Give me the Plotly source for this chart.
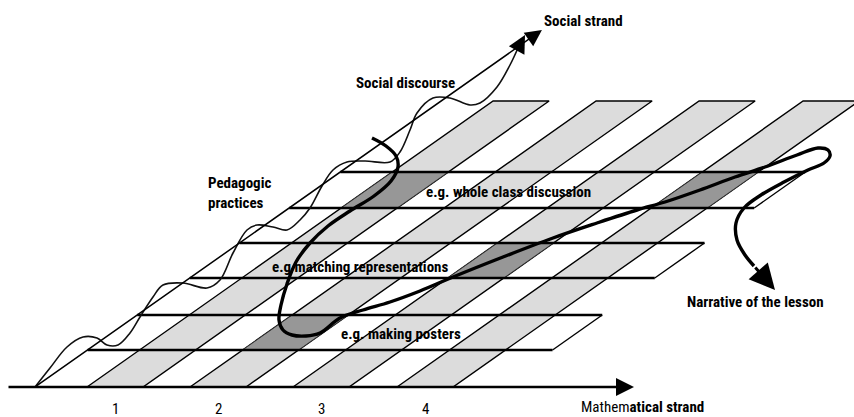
import plotly.graph_objects as go

# ---------------- data ----------------
# oblique projection parameters of the diagram (origin, slant)
X0, Y0, K = 35, 387, 1.42

math_ticks = ["1", "2", "3", "4"]
strip_start = [52, 155, 258, 362]      # position along the mathematical strand
strip_width = 56
strip_depth = 286                       # extent along the social strand

row_labels = ["e.g. making posters", "e.g matching representations", "e.g. whole class discussion"]
row_lo = [37, 109, 179]                 # social-strand depth of each practice row
row_hi = [72, 144, 215]
row_length = 465
row_label_x = [401, 360, 508]
row_label_y = [334, 267, 192]

dark_rows = [0, 1, 2, 2]                # (row, strip) cells visited by the narrative
dark_strips = [1, 2, 0, 3]

social_len = 357
math_from, math_to = -28, 599

wavy_x = [35, 50, 67, 83, 97, 107, 118, 130, 140, 153, 163, 183, 207, 220, 233, 247, 257, 273, 287,
          300, 310, 322, 333, 347, 365, 390, 400, 410, 417, 433, 450, 470, 480, 497, 510, 518]
wavy_y = [387, 368, 347, 337, 338, 345, 345, 333, 317, 297, 285, 283, 288, 280, 253, 230, 225, 227, 230,
          220, 208, 186, 170, 162, 161, 162, 152, 130, 113, 98, 98, 105, 103, 87, 65, 48]
wavy_tip = (525, 35)

narr_x = [372, 386, 396, 398, 391, 374, 350, 328, 310, 296, 287, 281, 279, 283, 292, 306, 320, 340,
          363, 390, 420, 453, 503, 553, 597, 637, 665, 700, 735, 765, 797, 818, 828, 830, 824, 808,
          784, 761, 744, 736, 737, 745, 754]
narr_y = [138, 146, 156, 167, 181, 196, 211, 226, 243, 262, 284, 305, 320, 330, 335, 336, 333, 318,
          310, 302, 291, 277, 257, 238, 223, 210, 202, 190, 177, 167, 155, 148, 150, 156, 163, 170,
          182, 195, 208, 223, 240, 255, 266]
narr_tip = (775, 290)

LIGHT = "#dcdcdc"
DARK = "#979797"
FONT = "Liberation Sans Narrow, Arial Narrow, Roboto Condensed, DejaVu Sans Condensed, sans-serif"


def proj(m, s):
    return X0 + m + K * s, Y0 - s


def quad(m0, m1, s0, s1):
    pts = [proj(m0, s0), proj(m1, s0), proj(m1, s1), proj(m0, s1), proj(m0, s0)]
    return [p[0] for p in pts], [p[1] for p in pts]


fig = go.Figure()

# light strips of the mathematical strand
for m in strip_start:
    xs, ys = quad(m, m + strip_width, 0, strip_depth)
    fig.add_trace(go.Scatter(x=xs, y=ys, mode="lines", fill="toself", fillcolor=LIGHT,
                             line=dict(color="black", width=1.4), hoverinfo="skip"))

# dark cells
for r, k in zip(dark_rows, dark_strips):
    xs, ys = quad(strip_start[k], strip_start[k] + strip_width, row_lo[r], row_hi[r])
    fig.add_trace(go.Scatter(x=xs, y=ys, mode="lines", fill="toself", fillcolor=DARK,
                             line=dict(color="#333", width=0.8), hoverinfo="skip"))

# practice rows (outlines)
for lo, hi in zip(row_lo, row_hi):
    for s in (lo, hi):
        a, b = proj(0, s), proj(row_length, s)
        fig.add_trace(go.Scatter(x=[a[0], b[0]], y=[a[1], b[1]], mode="lines",
                                 line=dict(color="black", width=2.4), hoverinfo="skip"))
    a, b = proj(row_length, lo), proj(row_length, hi)
    fig.add_trace(go.Scatter(x=[a[0], b[0]], y=[a[1], b[1]], mode="lines",
                             line=dict(color="black", width=1.4), hoverinfo="skip"))

# social discourse (wavy)
fig.add_trace(go.Scatter(x=wavy_x, y=wavy_y, mode="lines", line=dict(color="#111", width=1.6, shape="spline"),
                         hoverinfo="skip"))
# narrative of the lesson
fig.add_trace(go.Scatter(x=narr_x, y=narr_y, mode="lines", line=dict(color="black", width=3.4, shape="spline"),
                         hoverinfo="skip"))

ann = []


def arrow(x0, y0, x1, y1, w, size):
    ann.append(dict(x=x1, y=y1, ax=x0, ay=y0, xref="x", yref="y", axref="x", ayref="y",
                    text="", showarrow=True, arrowhead=2, arrowsize=size, arrowwidth=w,
                    arrowcolor="black", standoff=0, startstandoff=0))


# axes of the diagram
s0 = proj(0, 0)
s1 = proj(0, social_len)
arrow(s0[0], s0[1], s1[0], s1[1], 1.5, 2.2)
m0 = proj(math_from, 0)
m1 = proj(math_to, 0)
arrow(m0[0], m0[1], m1[0], m1[1], 2.4, 1.5)
arrow(wavy_x[-1], wavy_y[-1], wavy_tip[0], wavy_tip[1], 1.6, 2.2)
arrow(narr_x[-1], narr_y[-1], narr_tip[0], narr_tip[1], 3.0, 1.7)


def label(txt, x, y, size=15, weight="bold", xanchor="center", align="center"):
    ann.append(dict(x=x, y=y, xref="x", yref="y", text=txt, showarrow=False, xanchor=xanchor,
                    yanchor="middle", align=align,
                    font=dict(family=FONT, size=size, color="black", weight=weight)))


label("Social strand", 583, 21)
label("Social discourse", 405, 83)
label("Pedagogic<br>practices", 206, 193, xanchor="left", align="left")
for t, x, y in zip(row_labels, row_label_x, row_label_y):
    label(t, x, y)
label("Narrative of the lesson", 755, 302)
label("Mathem<b>atical strand</b>", 642, 407, weight="normal")
for t, m in zip(math_ticks, strip_start):
    label(t, proj(m + strip_width / 2, 0)[0], 409, size=15, weight="normal")

fig.update_layout(
    width=854, height=417, margin=dict(l=0, r=0, t=0, b=0),
    paper_bgcolor="white", plot_bgcolor="white", showlegend=False,
    xaxis=dict(range=[0, 854], visible=False, fixedrange=True),
    yaxis=dict(range=[417, 0], visible=False, fixedrange=True),
    annotations=ann,
)

fig.write_html("out.html", config={"displayModeBar": False},
               post_script="document.body.style.margin='0';document.body.style.overflow='hidden';")
